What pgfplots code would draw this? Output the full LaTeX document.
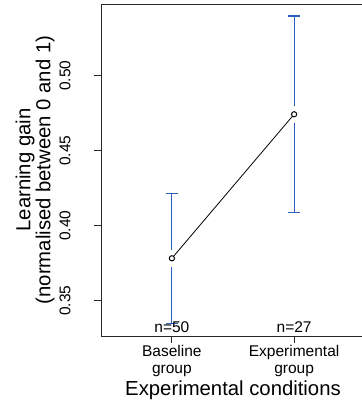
\documentclass[border=0pt]{standalone}
\usepackage{pgfplots}
\pgfplotsset{compat=1.18}
\usepackage{fontspec}
\setmainfont{Liberation Sans}
\definecolor{barblue}{RGB}{45,95,195}
\begin{document}
\begin{tikzpicture}
\begin{axis}[
  at={(0,0)}, anchor=south west,
  scale only axis, width=264bp, height=332bp,
  xmin=0.42, xmax=2.58, ymin=0.3265, ymax=0.5478,
  axis lines*=left,
  axis line style={line width=0.9bp, black!85, -},
  xtick={1,2}, xticklabels={Baseline\\group, Experimental\\group},
  ytick={0.35,0.40,0.45,0.50},
  yticklabels={0.35,0.40,0.45,0.50},
  tick align=outside, major tick length=6.5bp,
  tick style={line width=0.9bp, black!85},
  /pgf/number format/assume math mode=true,
  xticklabel style={align=center, font=\fontsize{15.5bp}{17.5bp}\selectfont, anchor=north, yshift=1bp},
  yticklabel style={rotate=90, anchor=base, font=\fontsize{15.5bp}{17.5bp}\selectfont, yshift=24bp},
  xlabel={Experimental conditions},
  xlabel style={font=\fontsize{20.3bp}{24bp}\selectfont, at={(axis description cs:0.5,0)}, anchor=base, yshift=-59.5bp},
  ylabel={Learning gain\\(normalised between 0 and 1)},
  ylabel style={font=\fontsize{20.3bp}{20bp}\selectfont, align=center, at={(axis description cs:-0.2500,0.5)}, anchor=center},
  clip=false,
]
\draw[line width=0.9bp, black!85] (rel axis cs:0,1) -- (rel axis cs:1,1);
% error bars (upper and lower halves, with gap around the mean)
\addplot[barblue, line width=1.1bp, forget plot] coordinates {(1,0.3838) (1,0.4216)};
\addplot[barblue, line width=1.1bp, forget plot] coordinates {(1,0.3728) (1,0.3350)};
\addplot[barblue, line width=1.1bp, forget plot] coordinates {(0.953,0.4216) (1.047,0.4216)};
\addplot[barblue, line width=1.1bp, forget plot] coordinates {(0.953,0.3350) (1.047,0.3350)};
\addplot[barblue, line width=1.1bp, forget plot] coordinates {(2,0.4798) (2,0.5398)};
\addplot[barblue, line width=1.1bp, forget plot] coordinates {(2,0.4688) (2,0.4088)};
\addplot[barblue, line width=1.1bp, forget plot] coordinates {(1.953,0.5398) (2.047,0.5398)};
\addplot[barblue, line width=1.1bp, forget plot] coordinates {(1.953,0.4088) (2.047,0.4088)};
% means
\addplot[black, line width=0.8bp, mark=*, mark size=2.6bp, mark options={fill=white, line width=1bp}] coordinates {(1,0.3783) (2,0.4743)};
\node[font=\fontsize{15.5bp}{17.5bp}\selectfont] at (axis cs:1,0.3327) {n=50};
\node[font=\fontsize{15.5bp}{17.5bp}\selectfont] at (axis cs:2,0.3327) {n=27};
\end{axis}
\pgfresetboundingbox
\useasboundingbox (-101bp,-66bp) rectangle (261bp,336bp);
\end{tikzpicture}
\end{document}
